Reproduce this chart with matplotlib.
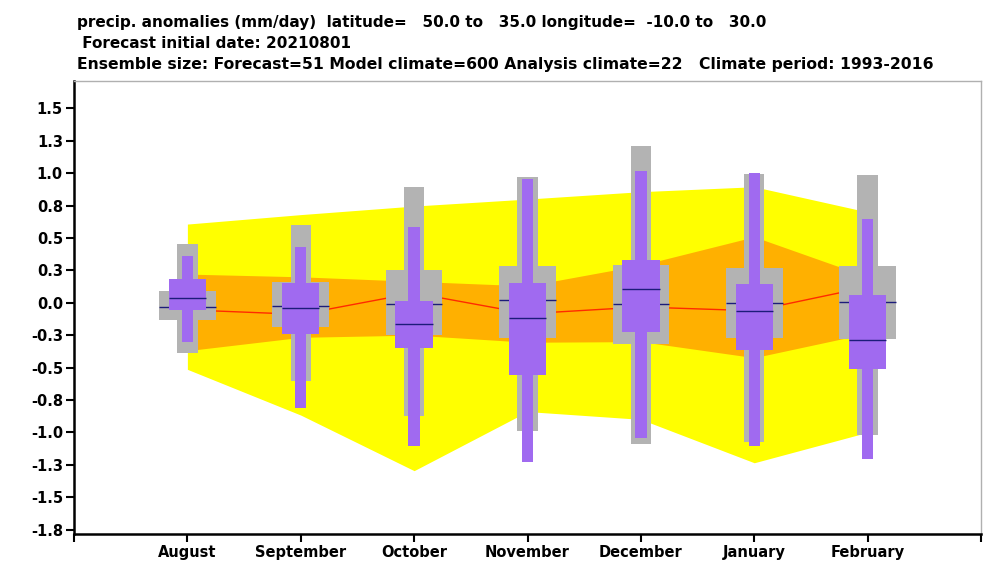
import matplotlib
matplotlib.use("Agg")
import matplotlib.pyplot as plt
import numpy as np

# months of the forecast
months = ['August', 'September', 'October', 'November', 'December', 'January', 'February']

# forecast ensemble (purple)
fc_min = [-0.30, -0.815, -1.103, -1.227, -1.047, -1.103, -1.206]
fc_q1 = [-0.056, -0.24, -0.347, -0.558, -0.229, -0.365, -0.514]
fc_med = [0.039, -0.038, -0.167, -0.12, 0.103, -0.064, -0.288]
fc_q3 = [0.185, 0.154, 0.01, 0.152, 0.329, 0.142, 0.059]
fc_max = [0.363, 0.43, 0.584, 0.954, 1.019, 1.003, 0.646]

# model climate (grey)
mc_min = [-0.39, -0.607, -0.872, -0.988, -1.093, -1.072, -1.023]
mc_q1 = [-0.134, -0.185, -0.249, -0.27, -0.319, -0.275, -0.283]
mc_med = [-0.036, -0.026, -0.012, 0.023, -0.01, 0.0, 0.008]
mc_q3 = [0.088, 0.162, 0.252, 0.283, 0.29, 0.27, 0.285]
mc_max = [0.45, 0.60, 0.89, 0.97, 1.211, 0.99, 0.985]

# analysis climate (yellow / orange bands, red median)
an_min = [-0.514, -0.867, -1.296, -0.84, -0.90, -1.235, -1.0]
an_lo = [-0.37, -0.267, -0.25, -0.305, -0.30, -0.424, -0.236]
an_med = [-0.055, -0.09, 0.075, -0.085, -0.033, -0.062, 0.122]
an_hi = [0.221, 0.20, 0.165, 0.13, 0.29, 0.509, 0.20]
an_max = [0.607, 0.68, 0.746, 0.80, 0.857, 0.895, 0.70]

ytick_vals = [-1.75, -1.5, -1.25, -1.0, -0.75, -0.5, -0.25, 0.0, 0.25, 0.5, 0.75, 1.0, 1.25, 1.5]
ytick_labels = ['-1.8', '-1.5', '-1.3', '-1.0', '-0.8', '-0.5', '-0.3', '0.0', '0.3', '0.5', '0.8', '1.0', '1.3', '1.5']

title_lines = [
    'precip. anomalies (mm/day)  latitude=   50.0 to   35.0 longitude=  -10.0 to   30.0',
    ' Forecast initial date: 20210801',
    'Ensemble size: Forecast=51 Model climate=600 Analysis climate=22   Climate period: 1993-2016',
]

YELLOW = '#ffff00'
ORANGE = '#ffb000'
GREY = '#b3b3b3'
PURPLE = '#a06af0'
NAVY = '#1c1c7a'
RED = '#ff2a00'

plt.rcParams['font.family'] = ['DejaVu Sans']
plt.rcParams['font.weight'] = 'bold'

fig = plt.figure(figsize=(9.96, 5.75), dpi=100)
ax = fig.add_axes([74 / 996, 1 - 534.3 / 575, (981 - 74) / 996, (534.3 - 81) / 575])

x = np.arange(1, len(months) + 1)

ax.fill_between(x, an_min, an_max, color=YELLOW, lw=0, zorder=1)
ax.fill_between(x, an_lo, an_hi, color=ORANGE, lw=0, zorder=2)
ax.plot(x, an_med, color=RED, lw=1, zorder=3)

lo = np.array(mc_min); hi = np.array(mc_max)
ax.bar(x, hi - lo, bottom=lo, width=0.18, color=GREY, lw=0, zorder=4)
lo = np.array(mc_q1); hi = np.array(mc_q3)
ax.bar(x, hi - lo, bottom=lo, width=0.5, color=GREY, lw=0, zorder=5)
ax.hlines(mc_med, x - 0.25, x + 0.25, color=NAVY, lw=1, zorder=6)

lo = np.array(fc_min); hi = np.array(fc_max)
ax.bar(x, hi - lo, bottom=lo, width=0.1, color=PURPLE, lw=0, zorder=7)
lo = np.array(fc_q1); hi = np.array(fc_q3)
ax.bar(x, hi - lo, bottom=lo, width=0.33, color=PURPLE, lw=0, zorder=8)
ax.hlines(fc_med, x - 0.165, x + 0.165, color=NAVY, lw=1, zorder=9)

ax.set_xlim(0, len(months) + 1)
ax.set_ylim(-1.787, 1.711)
ax.set_xticks(np.arange(0, len(months) + 2))
ax.set_xticklabels([''] + months + [''], fontsize=10.5, fontweight='bold')
ax.set_yticks(ytick_vals)
ax.set_yticklabels(ytick_labels, fontsize=10.5, fontweight='bold')
ax.tick_params(length=6, width=1.5, direction='out', pad=2)

for side in ['left', 'bottom']:
    ax.spines[side].set_linewidth(1.8)
    ax.spines[side].set_color('black')
for side in ['top', 'right']:
    ax.spines[side].set_linewidth(1.0)
    ax.spines[side].set_color('#b0b0b0')

for line, ybase, fs in zip(title_lines, [26.5, 47.5, 68.5], [11.0, 11.0, 11.25]):
    fig.text(77 / 996, 1 - ybase / 575, line, fontsize=fs, fontweight='bold',
             ha='left', va='baseline')

fig.savefig('out.png', dpi=100)
